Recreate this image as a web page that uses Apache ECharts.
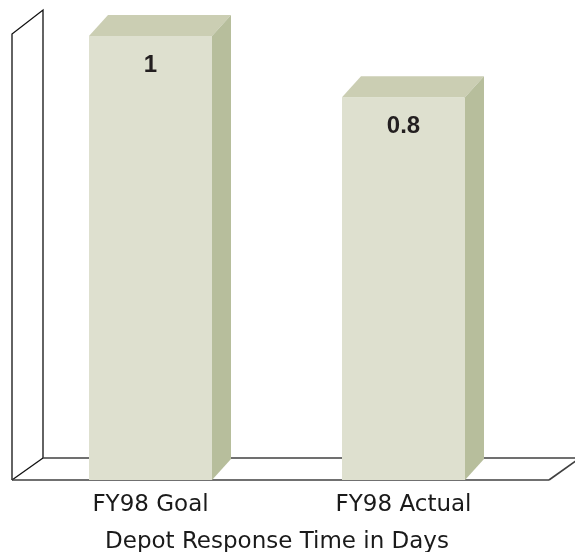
<!DOCTYPE html>
<html>
<head>
<meta charset="utf-8">
<script src="https://cdn.jsdelivr.net/npm/echarts@6/dist/echarts.min.js"></script>
<style>
  html, body { margin: 0; padding: 0; background: #ffffff; }
  #chart { width: 575px; height: 552px; }
</style>
</head>
<body>
<div id="chart"></div>
<script>
// Depot response time, goal vs actual
const categories = ['FY98 Goal', 'FY98 Actual'];
const responseDays = [1, 0.8];
const valueLabels = ['1', '0.8'];
const axisTitle = 'Depot Response Time in Days';

// value range of the (hidden) vertical axis
const axisMin = -0.45;
const axisMax = 1;

// 3D look
const FACE_FRONT = '#dee0cf';
const FACE_TOP = '#cbceb3';
const FACE_SIDE = '#b7be9c';
const BAR_DEPTH = [19, -21];
const WALL_DEPTH = [31, -22];
const BAR_RATIO = 123 / 253;
const LABEL_FONT = '"DejaVu Sans", sans-serif';

const barData = categories.map((c, i) => [i, responseDays[i], valueLabels[i]]);

function renderFrame(params, api) {
  const cs = params.coordSys;
  const yB = api.coord([0, axisMin])[1];
  const yT = api.coord([0, axisMax])[1] - 2;
  const L = cs.x - 12;
  const R = cs.x + cs.width + 19;
  const dx = WALL_DEPTH[0], dy = WALL_DEPTH[1];
  const wallStyle = { stroke: '#111111', lineWidth: 1.3, fill: null };
  const floorStyle = { stroke: '#404040', lineWidth: 1.7, fill: null };
  return {
    type: 'group',
    children: [
      { type: 'polyline', shape: { points: [[L, yB], [L, yT], [L + dx, yT + dy - 2], [L + dx, yB + dy]] }, style: wallStyle },
      { type: 'line', shape: { x1: L, y1: yB, x2: L + dx, y2: yB + dy }, style: wallStyle },
      { type: 'line', shape: { x1: L + dx, y1: yB + dy, x2: R + dx, y2: yB + dy }, style: floorStyle },
      { type: 'line', shape: { x1: L, y1: yB, x2: R, y2: yB }, style: floorStyle },
      { type: 'line', shape: { x1: R, y1: yB, x2: R + dx, y2: yB + dy }, style: floorStyle }
    ]
  };
}

function renderBar(params, api) {
  const idx = api.value(0);
  const v = api.value(1);
  const top = api.coord([idx, v]);
  const base = api.coord([idx, axisMin]);
  const w = api.size([1, 0])[0] * BAR_RATIO;
  const x0 = top[0] - w / 2, x1 = top[0] + w / 2;
  const yT = top[1], yB = base[1];
  const dx = BAR_DEPTH[0], dy = BAR_DEPTH[1];
  return {
    type: 'group',
    children: [
      { type: 'rect', shape: { x: x0, y: yT, width: w, height: yB - yT }, style: { fill: FACE_FRONT } },
      { type: 'polygon', shape: { points: [[x0, yT], [x0 + dx, yT + dy], [x1 + dx, yT + dy], [x1, yT]] }, style: { fill: FACE_TOP } },
      { type: 'polygon', shape: { points: [[x1, yT], [x1 + dx, yT + dy], [x1 + dx, yB + dy], [x1, yB]] }, style: { fill: FACE_SIDE } },
      {
        type: 'text',
        style: {
          text: barData[params.dataIndex][2],
          x: top[0], y: yT + 29,
          align: 'center', verticalAlign: 'middle',
          font: 'bold 24px "Liberation Sans", Arial, sans-serif',
          fill: '#231f20'
        }
      }
    ]
  };
}

const chart = echarts.init(document.getElementById('chart'), null, { renderer: 'canvas' });
chart.setOption({
  animation: false,
  backgroundColor: '#ffffff',
  grid: { left: 24, right: 45, top: 36, bottom: 72, containLabel: false, outerBoundsMode: 'none' },
  xAxis: {
    type: 'category',
    data: categories,
    axisLine: { show: false },
    axisTick: { show: false },
    axisLabel: { margin: 14, fontSize: 23, color: '#1a1a1a', fontFamily: LABEL_FONT },
    name: axisTitle,
    nameLocation: 'middle',
    nameGap: 51,
    nameTextStyle: { fontSize: 23, color: '#1a1a1a', fontFamily: LABEL_FONT }
  },
  yAxis: {
    type: 'value',
    min: axisMin,
    max: axisMax,
    show: false
  },
  series: [
    {
      type: 'custom',
      renderItem: renderFrame,
      data: [[0, axisMin]],
      encode: { x: 0, y: 1 },
      clip: false,
      silent: true,
      z: 1
    },
    {
      type: 'custom',
      renderItem: renderBar,
      data: barData,
      encode: { x: 0, y: 1 },
      clip: false,
      z: 2
    }
  ]
});
</script>
</body>
</html>
